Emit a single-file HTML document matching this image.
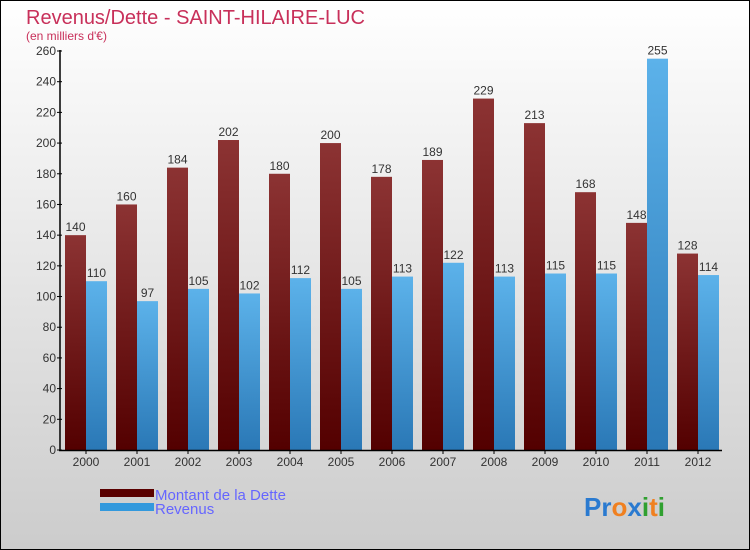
<!DOCTYPE html>
<html><head><meta charset="utf-8"><style>
body{margin:0}
svg{display:block;font-family:"Liberation Sans",sans-serif}
</style></head><body>
<svg width="750" height="550" viewBox="0 0 750 550">
<defs>
<linearGradient id="bg" x1="0" y1="0" x2="0" y2="1"><stop offset="0" stop-color="#ffffff"/><stop offset="1" stop-color="#cccccc"/></linearGradient>
<linearGradient id="gd" x1="0" y1="0" x2="0" y2="1"><stop offset="0" stop-color="#8c3333"/><stop offset="1" stop-color="#530000"/></linearGradient>
<linearGradient id="gr" x1="0" y1="0" x2="0" y2="1"><stop offset="0" stop-color="#5cb2ea"/><stop offset="1" stop-color="#2a78b6"/></linearGradient>
</defs>
<rect x="0.5" y="0.5" width="749" height="549" fill="url(#bg)" stroke="#000"/>
<text x="26" y="24" font-size="20" fill="#c8305a">Revenus/Dette - SAINT-HILAIRE-LUC</text>
<text x="26" y="40" font-size="12" fill="#c8305a">(en milliers d'€)</text>
<g id="plot"></g>
<rect x="100" y="489" width="54" height="8" fill="#5a0000"/>
<text x="155" y="500" font-size="15" fill="#6666ff">Montant de la Dette</text>
<rect x="100" y="503" width="54" height="8" fill="#3399dd"/>
<text x="155" y="514" font-size="15" fill="#6666ff">Revenus</text>
<text x="584" y="516" font-size="26" font-weight="bold"><tspan fill="#2a7ad0">Pr</tspan><tspan fill="#f08020">o</tspan><tspan fill="#2a7ad0">x</tspan><tspan fill="#30a030">i</tspan><tspan fill="#f08020">t</tspan><tspan fill="#30a030">i</tspan></text>
</svg>
<script>
const years=["2000","2001","2002","2003","2004","2005","2006","2007","2008","2009","2010","2011","2012"];
const dette=[140,160,184,202,180,200,178,189,229,213,168,148,128];
const revenus=[110,97,105,102,112,105,113,122,113,115,115,255,114];
const yTicks=[0,20,40,60,80,100,120,140,160,180,200,220,240,260];
const NS="http://www.w3.org/2000/svg";
const g=document.getElementById('plot');
const y0=450,yMax=260,ph=399;
function yS(v){return y0-v/yMax*ph;}
function xS(i){return 65+i*51;}
function mk(t,a){const e=document.createElementNS(NS,t);for(const k in a)e.setAttribute(k,a[k]);g.appendChild(e);return e;}
years.forEach((yr,i)=>{
  const x=xS(i);
  let b=mk('rect',{x:x,y:yS(dette[i]),width:21,height:y0-yS(dette[i]),fill:'url(#gd)'});
  
  
  let r=mk('rect',{x:x+21,y:yS(revenus[i]),width:21,height:y0-yS(revenus[i]),fill:'url(#gr)'});
  
  
  let t1=mk('text',{x:x+10.5,y:yS(dette[i])-4,'font-size':12,fill:'#333','text-anchor':'middle'});t1.textContent=dette[i];
  
  
  let t2=mk('text',{x:x+31.5,y:yS(revenus[i])-4,'font-size':12,fill:'#333','text-anchor':'middle'});t2.textContent=revenus[i];
  
  
  let xl=mk('text',{x:x+21,y:466,'font-size':12,fill:'#333','text-anchor':'middle'});xl.textContent=yr;
  
  
  mk('line',{x1:x+21,x2:x+21,y1:450,y2:454,stroke:'#000'});
});
yTicks.forEach(v=>{
  mk('line',{x1:57,x2:62,y1:yS(v),y2:yS(v),stroke:'#000'});
  let t=mk('text',{x:56,y:yS(v)+4,'font-size':12,fill:'#333','text-anchor':'end'});t.textContent=v;
  
  
});
let ya=mk('line',{x1:60,x2:60,y1:50,y2:451,stroke:'#000','stroke-width':1.5});


let xa=mk('line',{x1:59,x2:722,y1:450.5,y2:450.5,stroke:'#000','stroke-width':1.5});


</script>
</body></html>
